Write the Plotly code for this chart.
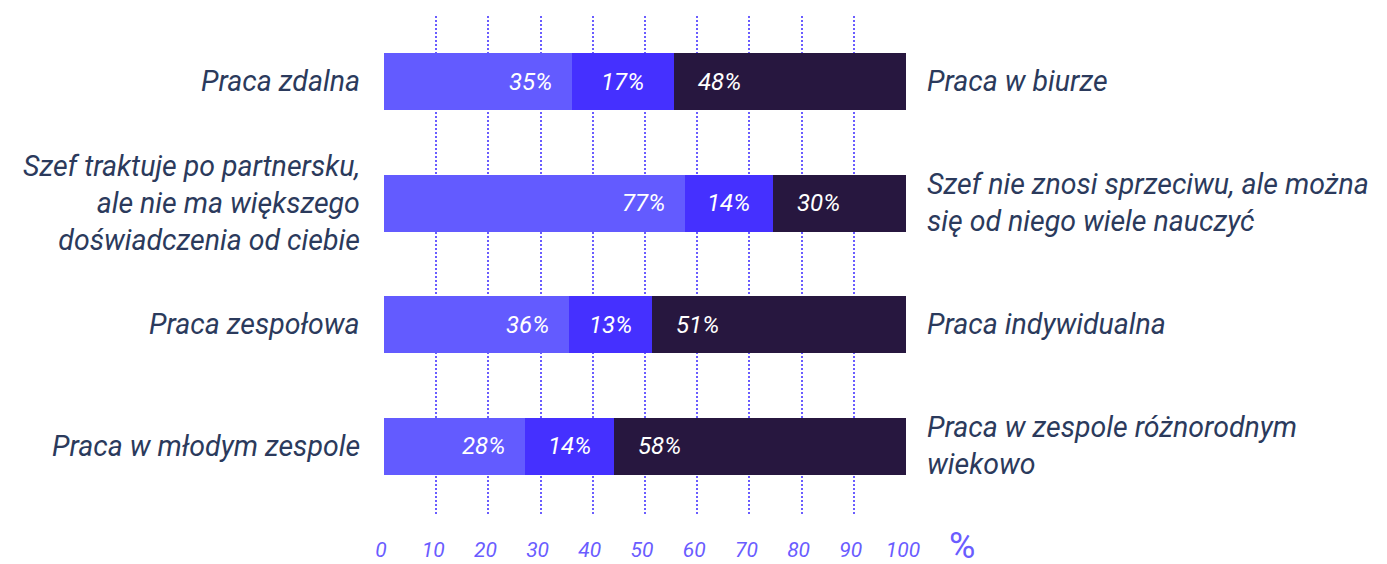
import plotly.graph_objects as go

# Data
left_labels = ["Praca zdalna",
               "Szef traktuje po partnersku,<br>ale nie ma większego<br>doświadczenia od ciebie",
               "Praca zespołowa",
               "Praca w młodym zespole"]
right_labels = ["Praca w biurze",
                "Szef nie znosi sprzeciwu, ale można<br>się od niego wiele nauczyć",
                "Praca indywidualna",
                "Praca w zespole różnorodnym<br>wiekowo"]
# segment lengths as drawn (in axis units)
seg1_len = [36.0, 57.6, 35.4, 27.0]
seg2_len = [19.5, 16.9, 15.9, 17.0]
seg3_len = [44.5, 25.5, 48.7, 56.0]
# printed labels
seg1_txt = [35, 77, 36, 28]
seg2_txt = [17, 14, 13, 14]
seg3_txt = [48, 30, 51, 58]
tick_vals = [0, 10, 20, 30, 40, 50, 60, 70, 80, 90, 100]

C1, C2, C3 = "#635BFF", "#4530FF", "#27173F"
TICK_C = "#6A5CFF"
TXT_C = "#2B3A5C"
FONT = "Roboto"

ypos = list(range(len(left_labels)))

fig = go.Figure()
for lens, col in [(seg1_len, C1), (seg2_len, C2), (seg3_len, C3)]:
    fig.add_trace(go.Bar(x=lens, y=ypos, orientation="h", marker=dict(color=col, line=dict(width=0)),
                         width=0.47, hoverinfo="skip"))

bar_font = dict(color="white", size=24, family=FONT, style="italic")
side_font = dict(color=TXT_C, size=28.5, family=FONT, style="italic")
ann = []
for i in ypos:
    e1 = seg1_len[i]
    e2 = e1 + seg2_len[i]
    ann.append(dict(x=e1, y=i, xref="x", yref="y", text=f"{seg1_txt[i]}%", showarrow=False,
                    xanchor="right", xshift=-18, font=bar_font))
    ann.append(dict(x=(e1 + e2) / 2, y=i, xref="x", yref="y", text=f"{seg2_txt[i]}%", showarrow=False,
                    xanchor="center", font=bar_font))
    ann.append(dict(x=e2, y=i, xref="x", yref="y", text=f"{seg3_txt[i]}%", showarrow=False,
                    xanchor="left", xshift=22, font=bar_font))
    ann.append(dict(x=0, y=i, xref="paper", yref="y", text=left_labels[i], showarrow=False,
                    xanchor="right", align="right", xshift=-22, font=side_font))
    ann.append(dict(x=1, y=i, xref="paper", yref="y", text=right_labels[i], showarrow=False,
                    xanchor="left", align="left", xshift=19, font=side_font))
ann.append(dict(x=1, y=0, xref="paper", yref="paper", text="%", showarrow=False,
                xanchor="center", yanchor="middle", xshift=56, yshift=-30,
                font=dict(color=TICK_C, size=36, family=FONT)))

fig.update_layout(
    barmode="stack", showlegend=False,
    width=1387, height=564,
    margin=dict(l=384, r=481, t=16, b=48, autoexpand=False),
    paper_bgcolor="white", plot_bgcolor="white",
    annotations=ann,
    xaxis=dict(range=[0, 100], tickvals=tick_vals, showgrid=True, gridcolor=TICK_C, gridwidth=2,
               griddash="2px,2px", zeroline=False, showline=False, ticks="", automargin=False,
               ticklabelstandoff=19, ticklabelshift=-3,
               tickfont=dict(color=TICK_C, size=21, family=FONT, style="italic")),
    yaxis=dict(range=[3.574, -0.543], showticklabels=False, showgrid=False, zeroline=False,
               showline=False, automargin=False),
)
fig.write_html("out.html", config={"displayModeBar": False},
               post_script="document.body.style.margin='0';document.body.style.overflow='hidden';")
